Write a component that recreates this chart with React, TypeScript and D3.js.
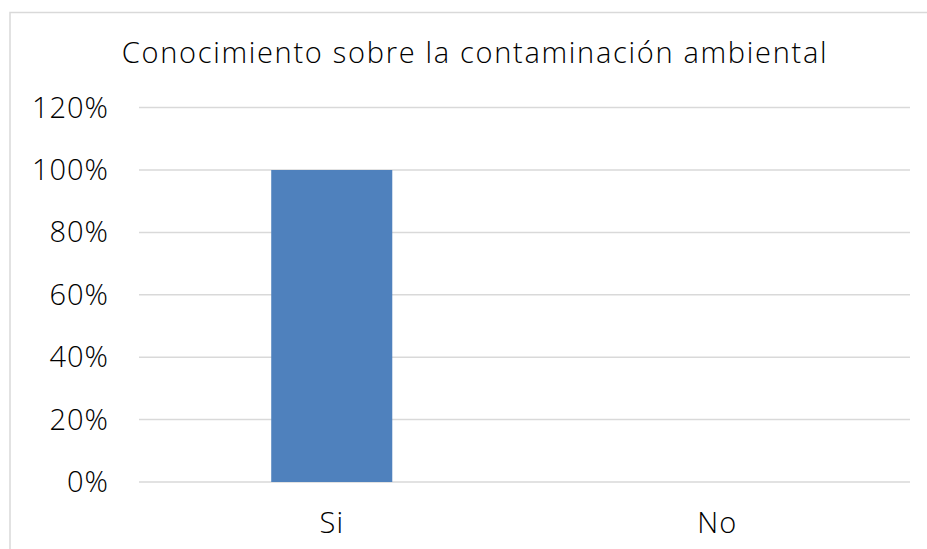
import React from "react";
import * as d3 from "d3";

const categories = ["Si", "No"];
const values = [1.0, 0.0];
const yTicks = [0, 0.2, 0.4, 0.6, 0.8, 1.0, 1.2];
const title = "Conocimiento sobre la contaminación ambiental";

export default function App() {
  const W = 927, H = 549;
  const left = 139, right = 910, top = 107.6, bottom = 482;
  const x = d3.scaleBand().domain(categories).range([left, right]).paddingInner(0.686).paddingOuter(0.343);
  const y = d3.scaleLinear().domain([0, 1.2]).range([bottom, top]);
  const font = "'Open Sans', 'Noto Sans', sans-serif";
  return (
    <svg width={W} height={H} style={{ position: "fixed", left: 0, top: 0 }}>
      <rect x={0} y={0} width={W} height={H} fill="#fff" />
      <rect x={10} y={12.5} width={W + 20} height={H + 20} fill="#fff" stroke="#d9d9d9" strokeWidth={1.5} />
      <text x={475} y={63} textAnchor="middle" fontFamily={font} fontSize={29} fontWeight={300} letterSpacing={1.7} fill="#000">{title}</text>
      {yTicks.map((t) => (
        <g key={t}>
          <line x1={left} x2={right} y1={y(t)} y2={y(t)} stroke="#d9d9d9" strokeWidth={1.5} />
          <text x={109} y={y(t) + 10} textAnchor="end" fontFamily={font} fontSize={29} fontWeight={300} letterSpacing={1} fill="#000">{d3.format(".0%")(t)}</text>
        </g>
      ))}
      {categories.map((c, i) => (
        <g key={c}>
          <rect x={x(c)} y={y(values[i])} width={x.bandwidth()} height={bottom - y(values[i])} fill="#4f81bd" />
          <text x={(x(c) as number) + x.bandwidth() / 2} y={533} textAnchor="middle" fontFamily={font} fontSize={29} fontWeight={300} letterSpacing={1} fill="#000">{c}</text>
        </g>
      ))}
    </svg>
  );
}
